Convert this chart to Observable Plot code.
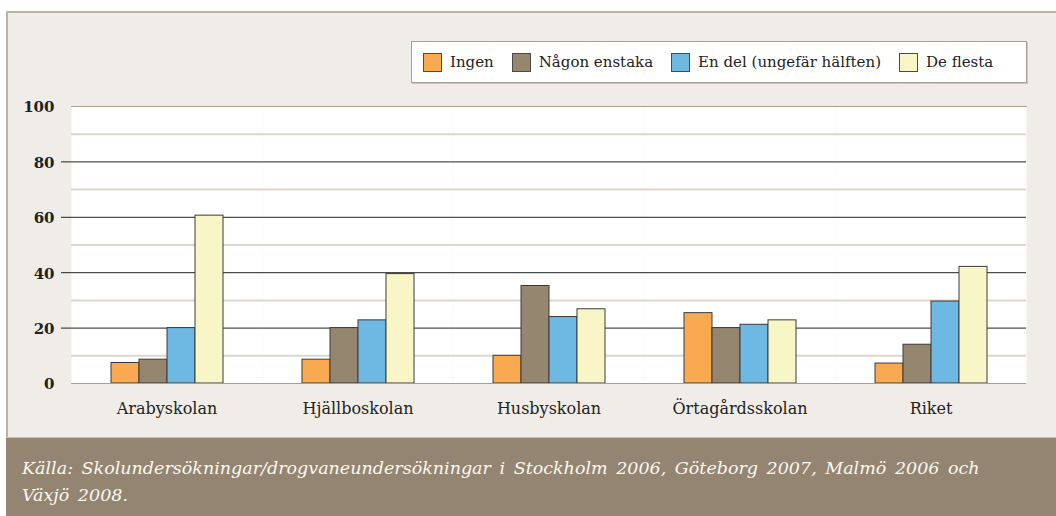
<!DOCTYPE html>
<html>
<head>
<meta charset="utf-8">
<script src="https://cdn.jsdelivr.net/npm/d3@7"></script>
<script src="https://cdn.jsdelivr.net/npm/@observablehq/plot@0.6"></script>
<style>
  html, body { margin: 0; padding: 0; background: #ffffff; }
  body { width: 1056px; height: 516px; position: relative; overflow: hidden; font-family: "DejaVu Serif", serif; }
  #panel { position: absolute; left: 6px; top: 11px; width: 1050px; height: 426px; background: #f0ede8;
           border-top: 2px solid #bcb3a7; border-left: 2px solid #bcb3a7; box-sizing: border-box; }
  #chart { position: absolute; left: 0; top: 0; }
  #legend { position: absolute; left: 411px; top: 41px; width: 616px; height: 42px; background: #fff;
            border: 1px solid #a99e8f; box-shadow: 1px 1px 0 #cfc7bb; box-sizing: border-box;
            display: flex; align-items: center; padding-left: 11px; font-size: 15px; color: #222; }
  .item { display: flex; align-items: center; margin-right: 18px; white-space: nowrap; }
  .sw { width: 19px; height: 19px; box-sizing: border-box; border: 1px solid #4a4a4a; margin-right: 8px; }
  #caption { position: absolute; left: 6px; top: 437px; width: 1050px; height: 79px; background: #938571;
             border-top: 1px solid #c9c0b4; box-sizing: border-box; color: #fbf8f2; font-style: italic;
             font-size: 17.5px; line-height: 27px; padding: 17px 0 0 16px; word-spacing: 3px; }
</style>
</head>
<body>
<div id="panel"></div>
<div id="chart"></div>
<div id="legend"></div>
<div id="caption">Källa: Skolundersökningar/drogvaneundersökningar i Stockholm 2006, Göteborg 2007, Malmö 2006 och<br>Växjö 2008.</div>
<script>
// ---- data ----
const schools = ["Arabyskolan", "Hjällboskolan", "Husbyskolan", "Örtagårdsskolan", "Riket"];
const series = ["Ingen", "Någon enstaka", "En del (ungefär hälften)", "De flesta"];
const ingen    = [7.4, 8.6, 10.0, 25.4, 7.2];
const nagon    = [8.6, 20.0, 35.2, 20.0, 14.0];
const endel    = [20.0, 22.8, 24.0, 21.2, 29.6];
const deFlesta = [60.6, 39.5, 26.8, 22.8, 42.1];
const colors = ["#f9a950", "#958670", "#6eb8e4", "#f8f6c6"];
const yTicks = [0, 20, 40, 60, 80, 100];
const majorGrid = [20, 40, 60, 80];
const minorGrid = [10, 30, 50, 70, 90];

const valuesBySeries = [ingen, nagon, endel, deFlesta];
const data = [];
schools.forEach((s, i) => series.forEach((k, j) => data.push({school: s, series: k, value: valuesBySeries[j][i]})));

// ---- legend ----
const legend = document.getElementById("legend");
series.forEach((k, j) => {
  const it = document.createElement("div");
  it.className = "item";
  const sw = document.createElement("div");
  sw.className = "sw";
  sw.style.background = colors[j];
  const tx = document.createElement("span");
  tx.textContent = k;
  it.append(sw, tx);
  legend.append(it);
});

// ---- chart ----
const W = 1056, H = 437, mL = 70, mR = 29, mT = 106, mB = 54;
const bw = (W - mL - mR) / schools.length;
const border = "#a99e8f";
const sep = "#d6cec3";

const chart = Plot.plot({
  width: W, height: H,
  marginLeft: mL, marginRight: mR, marginTop: mT, marginBottom: mB,
  style: {fontFamily: "'DejaVu Serif', serif", fontSize: "14px", color: "#222", background: "transparent", overflow: "visible"},
  fx: {domain: schools, padding: 0, label: null},
  x: {domain: series, paddingInner: 0, paddingOuter: 1.4, axis: null},
  y: {domain: [0, 100], label: null},
  color: {domain: series, range: colors},
  marks: [
    Plot.frame({fill: "white", stroke: "none"}),
    Plot.ruleY(minorGrid, {stroke: "#ddd6cc", strokeWidth: 2}),
    Plot.ruleX(schools.slice(1), {fx: d => d, dx: -bw / 2, stroke: sep, strokeWidth: 2, insetBottom: -30}),
    Plot.ruleY(majorGrid, {stroke: "#222", strokeWidth: 1}),
    Plot.axisY({ticks: majorGrid, tickSize: 10, tickFormat: () => "", stroke: "#222"}),
    Plot.axisY({ticks: yTicks, tickSize: 0, tickPadding: 17, fontSize: 15, fontWeight: "bold", fill: "#222", label: null, dy: 1}),
    Plot.barY(data, {fx: "school", x: "series", y: "value", fill: "series", stroke: "#3a3a3a", strokeWidth: 1}),
    Plot.frame({anchor: "top", stroke: border}),
    Plot.ruleY([0], {stroke: border}),
    Plot.ruleX(schools.slice(0, 1), {fx: d => d, dx: -bw / 2, stroke: border}),
    Plot.ruleX(schools.slice(-1), {fx: d => d, dx: bw / 2, stroke: border}),
    Plot.axisFx({anchor: "bottom", tickSize: 0, tickPadding: 19, fontSize: 16, fill: "#222", label: null})
  ]
});
document.getElementById("chart").append(chart);
</script>
</body>
</html>
